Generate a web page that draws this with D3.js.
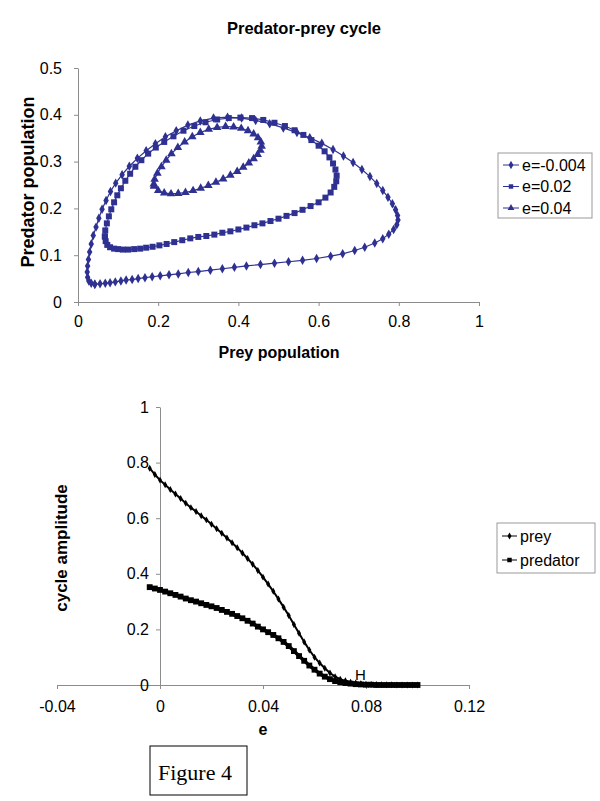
<!DOCTYPE html>
<html>
<head>
<meta charset="utf-8">
<script src="https://cdn.jsdelivr.net/npm/d3@7"></script>
<style>
  body { margin: 0; background: #fff; }
  svg { display: block; }
  text { font-family: "Liberation Sans", Arial, sans-serif; fill: #000; }
</style>
</head>
<body>
<svg id="chart" width="600" height="801"></svg>
<script>

// ---- top chart: predator-prey cycles (prey, predator) ----
var cycleNames = ["e=-0.004", "e=0.02", "e=0.04"]

var cycleA = [
  [0.042,0.038],[0.055,0.039],[0.068,0.040],[0.080,0.041],[0.093,0.043],[0.107,0.045],[0.120,0.047],
  [0.135,0.048],[0.150,0.050],[0.167,0.052],[0.185,0.054],[0.205,0.056],[0.227,0.058],[0.250,0.060],
  [0.275,0.063],[0.300,0.065],[0.330,0.068],[0.360,0.071],[0.390,0.074],[0.420,0.077],[0.455,0.080],
  [0.490,0.083],[0.525,0.086],[0.560,0.089],[0.595,0.093],[0.630,0.098],[0.660,0.103],[0.690,0.110],
  [0.715,0.117],[0.740,0.126],[0.760,0.135],[0.775,0.145],[0.787,0.155],[0.795,0.165],[0.798,0.175],
  [0.797,0.185],[0.792,0.197],[0.784,0.210],[0.773,0.224],[0.760,0.238],[0.745,0.253],[0.728,0.268],
  [0.708,0.283],[0.686,0.298],[0.662,0.312],[0.636,0.326],[0.608,0.339],[0.578,0.351],[0.546,0.362],
  [0.512,0.372],[0.478,0.381],[0.443,0.388],[0.408,0.393],[0.373,0.395],[0.338,0.393],[0.305,0.387],
  [0.274,0.378],[0.245,0.366],[0.218,0.353],[0.193,0.338],[0.170,0.323],[0.148,0.307],[0.128,0.290],
  [0.110,0.272],[0.094,0.254],[0.081,0.236],[0.070,0.217],[0.060,0.198],[0.052,0.179],[0.045,0.160],
  [0.038,0.142],[0.033,0.124],[0.029,0.107],[0.026,0.091],[0.024,0.077],[0.023,0.064],[0.024,0.053],
  [0.027,0.045],[0.033,0.040],[0.042,0.038]
]

var cycleB = [
  [0.067,0.140],[0.069,0.130],[0.073,0.122],[0.080,0.117],[0.090,0.114],[0.100,0.113],[0.112,0.112],
  [0.125,0.112],[0.140,0.113],[0.155,0.114],[0.170,0.116],[0.186,0.118],[0.203,0.121],[0.221,0.124],
  [0.240,0.128],[0.260,0.132],[0.280,0.136],[0.300,0.139],[0.320,0.141],[0.340,0.144],[0.360,0.148],
  [0.380,0.151],[0.400,0.155],[0.420,0.159],[0.440,0.164],[0.460,0.168],[0.480,0.173],[0.500,0.178],
  [0.520,0.184],[0.540,0.190],[0.560,0.197],[0.580,0.205],[0.600,0.213],[0.617,0.223],[0.630,0.234],
  [0.639,0.246],[0.644,0.258],[0.645,0.270],[0.642,0.283],[0.636,0.296],[0.627,0.309],[0.615,0.322],
  [0.600,0.334],[0.582,0.346],[0.562,0.357],[0.540,0.367],[0.516,0.376],[0.490,0.383],[0.462,0.389],
  [0.434,0.393],[0.405,0.394],[0.376,0.393],[0.347,0.390],[0.318,0.384],[0.290,0.376],[0.263,0.366],
  [0.238,0.354],[0.215,0.342],[0.194,0.330],[0.175,0.317],[0.158,0.303],[0.143,0.289],[0.130,0.274],
  [0.118,0.259],[0.107,0.243],[0.098,0.228],[0.090,0.213],[0.083,0.198],[0.077,0.183],[0.072,0.168],
  [0.068,0.153],[0.067,0.140]
]

var cycleC = [
  [0.190,0.248],[0.200,0.238],[0.215,0.233],[0.232,0.231],[0.250,0.232],[0.268,0.234],[0.287,0.238],
  [0.306,0.243],[0.325,0.249],[0.344,0.256],[0.362,0.263],[0.380,0.271],[0.397,0.279],[0.412,0.288],
  [0.426,0.297],[0.438,0.306],[0.448,0.315],[0.455,0.324],[0.458,0.333],[0.456,0.342],[0.449,0.351],
  [0.438,0.359],[0.424,0.366],[0.407,0.371],[0.388,0.374],[0.368,0.375],[0.347,0.373],[0.326,0.369],
  [0.305,0.362],[0.285,0.353],[0.266,0.342],[0.249,0.330],[0.233,0.317],[0.220,0.303],[0.208,0.289],
  [0.198,0.275],[0.191,0.262],[0.189,0.252],[0.190,0.248]
]

var topXTicks = [0, 0.2, 0.4, 0.6, 0.8, 1]
var topYTicks = [0, 0.1, 0.2, 0.3, 0.4, 0.5]

// ---- bottom chart: cycle amplitude vs e ----
var eValues = [
  -0.004,-0.002,0,0.002,0.004,0.006,0.008,0.010,0.012,0.014,0.016,0.018,0.020,0.022,0.024,0.026,
  0.028,0.030,0.032,0.034,0.036,0.038,0.040,0.042,0.044,0.046,0.048,0.050,0.052,0.054,0.056,0.058,
  0.060,0.062,0.064,0.066,0.068,0.070,0.072,0.074,0.076,0.078,0.080,0.082,0.084,0.086,0.088,0.090,
  0.092,0.094,0.096,0.098,0.100
]
var preyAmp = [
  0.780,0.757,0.737,0.720,0.703,0.687,0.671,0.654,0.638,0.624,0.609,0.594,0.578,0.562,0.546,0.529,
  0.512,0.494,0.475,0.455,0.434,0.412,0.388,0.363,0.337,0.309,0.280,0.250,0.218,0.186,0.155,0.126,
  0.100,0.079,0.060,0.043,0.030,0.021,0.015,0.010,0.007,0.005,0.003,0.002,0.002,0.001,0.001,0.001,
  0.000,0.000,0.000,0.000,0.000
]
var predatorAmp = [
  0.352,0.347,0.342,0.336,0.330,0.324,0.318,0.311,0.305,0.300,0.294,0.288,0.283,0.277,0.270,0.263,
  0.256,0.248,0.240,0.231,0.221,0.210,0.200,0.190,0.180,0.168,0.155,0.140,0.122,0.104,0.087,0.070,
  0.055,0.041,0.030,0.021,0.014,0.010,0.007,0.005,0.003,0.002,0.001,0.001,0.000,0.000,0.000,0.000,
  0.000,0.000,0.000,0.000,0.000
]
var ampNames = ["prey", "predator"]
var bottomXTicks = [-0.04, 0, 0.04, 0.08, 0.12]
var bottomYTicks = [0, 0.2, 0.4, 0.6, 0.8, 1]

var svg = d3.select("#chart")
var axisGrey = "#8c8c8c"
var blue = "#2e3192"

function styleAxis(g, fontSize) {
  g.select(".domain").attr("stroke", axisGrey)
  g.selectAll(".tick line").attr("stroke", axisGrey)
  g.selectAll(".tick text").style("font-size", fontSize + "px").attr("fill", "#000")
}

// ================= TOP CHART =================
var x1 = d3.scaleLinear().domain([0, 1]).range([78, 479])
var y1 = d3.scaleLinear().domain([0, 0.5]).range([302, 68])

svg.append("text")
    .attr("x", 304).attr("y", 34)
    .attr("text-anchor", "middle")
    .style("font-size", "16.5px").style("font-weight", "bold")
    .text("Predator-prey cycle")

svg.append("g")
    .attr("transform", "translate(0," + y1(0) + ")")
    .call(d3.axisBottom(x1).tickValues(topXTicks).tickFormat(String).tickSize(4).tickSizeOuter(0).tickPadding(10))
    .call(styleAxis, 16)

svg.append("g")
    .attr("transform", "translate(" + x1(0) + ",0)")
    .call(d3.axisLeft(y1).tickValues(topYTicks).tickFormat(String).tickSize(4).tickSizeOuter(0).tickPadding(12))
    .call(styleAxis, 16)

svg.append("text")
    .attr("x", 279).attr("y", 358)
    .attr("text-anchor", "middle")
    .style("font-size", "16px").style("font-weight", "bold")
    .text("Prey population")

svg.append("text")
    .attr("transform", "translate(34,182) rotate(-90)")
    .attr("text-anchor", "middle")
    .style("font-size", "18px").style("font-weight", "bold")
    .text("Predator population")

var cycles = [cycleA, cycleB, cycleC]
var cycleSymbols = [
  d3.symbol().type(d3.symbolDiamond).size(26),
  d3.symbol().type(d3.symbolSquare).size(36),
  d3.symbol().type(d3.symbolTriangle).size(32)
]

var line1 = d3.line().x(function(d){ return x1(d[0]) }).y(function(d){ return y1(d[1]) })

cycles.forEach(function(c, i) {
  svg.append("path")
      .attr("d", line1(c))
      .attr("fill", "none")
      .attr("stroke", blue)
      .attr("stroke-width", 1.2)
  svg.append("g").selectAll("path")
      .data(c)
    .enter().append("path")
      .attr("transform", function(d){ return "translate(" + x1(d[0]) + "," + y1(d[1]) + ")" })
      .attr("d", cycleSymbols[i])
      .attr("fill", blue)
})

// top legend
var leg1 = svg.append("g").attr("transform", "translate(498,153)")
leg1.append("rect")
    .attr("width", 94).attr("height", 65)
    .attr("fill", "#fff").attr("stroke", "#999")
cycleNames.forEach(function(name, i) {
  var yy = 12 + i * 21.5
  leg1.append("line")
      .attr("x1", 5).attr("x2", 21).attr("y1", yy).attr("y2", yy)
      .attr("stroke", blue).attr("stroke-width", 1)
  leg1.append("path")
      .attr("transform", "translate(13," + yy + ")")
      .attr("d", d3.symbol().type([d3.symbolDiamond, d3.symbolSquare, d3.symbolTriangle][i]).size(20))
      .attr("fill", blue)
  leg1.append("text")
      .attr("x", 24).attr("y", yy + 5.5)
      .style("font-size", "16px")
      .text(name)
})

// ================= BOTTOM CHART =================
var x2 = d3.scaleLinear().domain([-0.04, 0.12]).range([57, 469])
var y2 = d3.scaleLinear().domain([0, 1]).range([685, 407])

svg.append("g")
    .attr("transform", "translate(0," + y2(0) + ")")
    .call(d3.axisBottom(x2).tickValues(bottomXTicks).tickFormat(String).tickSize(4).tickSizeOuter(0).tickPadding(12))
    .call(styleAxis, 16)

svg.append("g")
    .attr("transform", "translate(" + x2(0) + ",0)")
    .call(d3.axisLeft(y2).tickValues(bottomYTicks).tickFormat(String).tickSize(4).tickSizeOuter(0).tickPadding(7))
    .call(styleAxis, 16)

svg.append("text")
    .attr("x", 263).attr("y", 735)
    .attr("text-anchor", "middle")
    .style("font-size", "16px").style("font-weight", "bold")
    .text("e")

svg.append("text")
    .attr("transform", "translate(67,548) rotate(-90)")
    .attr("text-anchor", "middle")
    .style("font-size", "17px").style("font-weight", "bold")
    .text("cycle amplitude")

var ampSeries = [preyAmp, predatorAmp]
var ampSymbols = [
  d3.symbol().type(d3.symbolDiamond).size(14),
  d3.symbol().type(d3.symbolSquare).size(34)
]

var line2 = d3.line().x(function(d, i){ return x2(eValues[i]) }).y(function(d){ return y2(d) })

ampSeries.forEach(function(s, k) {
  svg.append("path")
      .attr("d", line2(s))
      .attr("fill", "none")
      .attr("stroke", "#000")
      .attr("stroke-width", k == 0 ? 2 : 3.5)
  svg.append("g").selectAll("path")
      .data(s)
    .enter().append("path")
      .attr("transform", function(d, i){ return "translate(" + x2(eValues[i]) + "," + y2(d) + ")" })
      .attr("d", ampSymbols[k])
      .attr("fill", "#000")
})

svg.append("text")
    .attr("x", 355).attr("y", 680)
    .style("font-size", "15px")
    .text("H")

// bottom legend
var leg2 = svg.append("g").attr("transform", "translate(497,523)")
leg2.append("rect")
    .attr("width", 98).attr("height", 50)
    .attr("fill", "#fff").attr("stroke", "#999")
ampNames.forEach(function(name, i) {
  var yy = 13 + i * 24
  leg2.append("line")
      .attr("x1", 5).attr("x2", 20).attr("y1", yy).attr("y2", yy)
      .attr("stroke", "#000").attr("stroke-width", 1)
  leg2.append("path")
      .attr("transform", "translate(12.5," + yy + ")")
      .attr("d", d3.symbol().type(i == 0 ? d3.symbolDiamond : d3.symbolSquare).size(i == 0 ? 14 : 20))
      .attr("fill", "#000")
  leg2.append("text")
      .attr("x", 23).attr("y", yy + 5.5)
      .style("font-size", "16px")
      .text(name)
})

// figure caption box
svg.append("rect")
    .attr("x", 150).attr("y", 746).attr("width", 97).attr("height", 49)
    .attr("fill", "#fff").attr("stroke", "#000").attr("stroke-width", 1)
svg.append("text")
    .attr("x", 158).attr("y", 780)
    .style("font-family", "'Liberation Serif', 'Times New Roman', serif")
    .style("font-size", "22px")
    .text("Figure 4")

</script>
</body>
</html>
